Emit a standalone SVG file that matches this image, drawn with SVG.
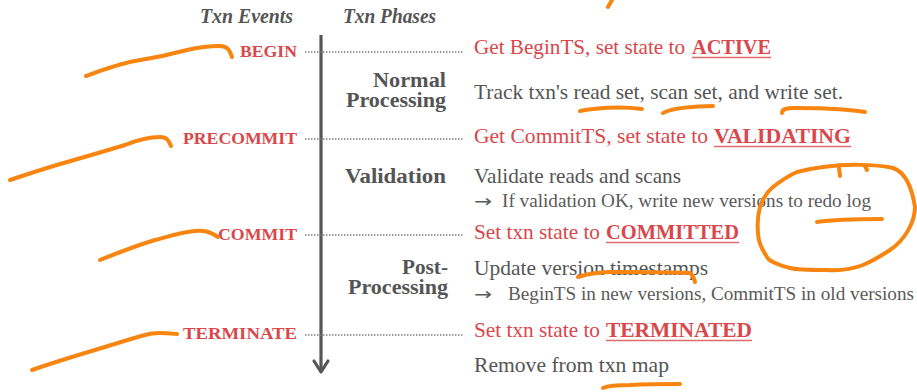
<svg xmlns="http://www.w3.org/2000/svg" width="917" height="392" viewBox="0 0 917 392">
<defs>
<style>
.hdr{font-family:"Liberation Serif",serif;font-style:italic;font-weight:bold;font-size:20px;fill:#555}
.ev{font-family:"Liberation Serif",serif;font-weight:bold;font-size:17.5px;fill:#d9474b;text-anchor:end}
.ph{font-family:"Liberation Serif",serif;font-weight:bold;font-size:20px;fill:#555;text-anchor:end}
.red{font-family:"Liberation Serif",serif;font-size:21px;fill:#d9474b}
.redb{font-family:"Liberation Serif",serif;font-weight:bold;font-size:21px;fill:#d9474b}
.txt{font-family:"Liberation Serif",serif;font-size:21px;fill:#555}
.sub{font-family:"Liberation Serif",serif;font-size:18px;fill:#5a5a5a}
.arr{font-family:"DejaVu Sans",sans-serif;font-size:17px;fill:#5a5a5a}
.ul{stroke:#e06a6c;stroke-width:1.6;fill:none}
.dot{stroke:#777;stroke-width:1.6;stroke-dasharray:1.4 1.6;fill:none}
.ink{stroke:#f7850f;stroke-width:4;fill:none;stroke-linecap:round;stroke-linejoin:round}
</style>
</defs>
<rect width="917" height="392" fill="#fff"/>

<g id="headers">
<text class="hdr" x="200" y="23" textLength="93" lengthAdjust="spacingAndGlyphs">Txn Events</text>
<text class="hdr" x="343" y="23" textLength="93" lengthAdjust="spacingAndGlyphs">Txn Phases</text>
</g>

<g id="connectors">
<line x1="321" y1="35" x2="321" y2="371" stroke="#555" stroke-width="3.2"/>
<path d="M314,361 L321,372 L328,361" fill="none" stroke="#555" stroke-width="3.2" stroke-linecap="round" stroke-linejoin="round"/>
<line class="dot" x1="305" y1="52" x2="464" y2="52"/>
<line class="dot" x1="305" y1="139" x2="464" y2="139"/>
<line class="dot" x1="305" y1="235" x2="464" y2="235"/>
<line class="dot" x1="305" y1="335" x2="464" y2="335"/>
</g>

<g id="ev-begin"><text class="ev" x="297" y="57" textLength="57" lengthAdjust="spacingAndGlyphs">BEGIN</text></g>
<g id="ev-precommit"><text class="ev" x="297" y="144" textLength="114" lengthAdjust="spacingAndGlyphs">PRECOMMIT</text></g>
<g id="ev-commit"><text class="ev" x="297" y="240" textLength="79" lengthAdjust="spacingAndGlyphs">COMMIT</text></g>
<g id="ev-terminate"><text class="ev" x="297" y="339" textLength="114" lengthAdjust="spacingAndGlyphs">TERMINATE</text></g>

<g id="ph-normal">
<text class="ph" x="446" y="87" textLength="73" lengthAdjust="spacingAndGlyphs">Normal</text>
<text class="ph" x="446" y="107" textLength="100" lengthAdjust="spacingAndGlyphs">Processing</text>
</g>
<g id="ph-validation"><text class="ph" x="446" y="183" textLength="101" lengthAdjust="spacingAndGlyphs">Validation</text></g>
<g id="ph-post">
<text class="ph" x="448" y="274" textLength="46" lengthAdjust="spacingAndGlyphs">Post-</text>
<text class="ph" x="448" y="294" textLength="100" lengthAdjust="spacingAndGlyphs">Processing</text>
</g>

<g id="act-begin">
<text class="red" x="474" y="54" textLength="211" lengthAdjust="spacingAndGlyphs">Get BeginTS, set state to</text>
<text class="redb" x="692" y="54" textLength="79" lengthAdjust="spacingAndGlyphs">ACTIVE</text>
<line class="ul" x1="692" y1="57.5" x2="771" y2="57.5"/>
</g>
<g id="act-track">
<text class="txt" x="474" y="99" textLength="369" lengthAdjust="spacingAndGlyphs">Track txn's read set, scan set, and write set.</text>
</g>
<g id="act-precommit">
<text class="red" x="474" y="143" textLength="234" lengthAdjust="spacingAndGlyphs">Get CommitTS, set state to</text>
<text class="redb" x="714" y="143" textLength="137" lengthAdjust="spacingAndGlyphs">VALIDATING</text>
<line class="ul" x1="714" y1="146.5" x2="851" y2="146.5"/>
</g>
<g id="act-validate">
<text class="txt" x="474" y="183" textLength="207" lengthAdjust="spacingAndGlyphs">Validate reads and scans</text>
<text class="arr" x="474" y="207" textLength="18" lengthAdjust="spacingAndGlyphs">→</text>
<text class="sub" x="502" y="207" textLength="369" lengthAdjust="spacingAndGlyphs">If validation OK, write new versions to redo log</text>
</g>
<g id="act-commit">
<text class="red" x="474" y="239" textLength="126" lengthAdjust="spacingAndGlyphs">Set txn state to</text>
<text class="redb" x="606" y="239" textLength="133" lengthAdjust="spacingAndGlyphs">COMMITTED</text>
<line class="ul" x1="606" y1="242.5" x2="739" y2="242.5"/>
</g>
<g id="act-update">
<text class="txt" x="474" y="275" textLength="234" lengthAdjust="spacingAndGlyphs">Update version timestamps</text>
<text class="arr" x="474" y="300" textLength="18" lengthAdjust="spacingAndGlyphs">→</text>
<text class="sub" x="508" y="300" textLength="406" lengthAdjust="spacingAndGlyphs">BeginTS in new versions, CommitTS in old versions</text>
</g>
<g id="act-terminate">
<text class="red" x="474" y="337" textLength="126" lengthAdjust="spacingAndGlyphs">Set txn state to</text>
<text class="redb" x="606" y="337" textLength="146" lengthAdjust="spacingAndGlyphs">TERMINATED</text>
<line class="ul" x1="606" y1="340.5" x2="752" y2="340.5"/>
</g>
<g id="act-remove">
<text class="txt" x="474" y="372" textLength="195" lengthAdjust="spacingAndGlyphs">Remove from txn map</text>
</g>

<g id="annotations">
<path class="ink" d="M612,0 L608,7"/>
<path class="ink" d="M86,76 C105,69 118,64 135,61 C155,58 165,56 187,50 C200,47 212,46 220,46 C228,46 230,51 232,57"/>
<path class="ink" d="M10,180 C25,175 40,170 60,164 C85,157 105,151 125,145 C140,139 150,137 160,137 C167,137 169,141 171,146"/>
<path class="ink" d="M100,260 C120,252 135,246 155,240 C170,236 182,232 195,231 C205,230 210,232 218,237"/>
<path class="ink" d="M32,370 C55,362 75,356 95,350 C115,344 130,339 145,335 C155,332 165,333 177,334"/>
<path class="ink" d="M580,111 C595,108 620,106 642,109"/>
<path class="ink" d="M663,113 C672,108 695,106 713,106"/>
<path class="ink" d="M782,113 C782,109 786,108 795,108 C820,108 845,109 865,112"/>
<path class="ink" d="M823,167 C845,164 875,164 893,168 C905,172 912,188 915,207 C915,222 905,240 890,250 C878,258 870,262 863,265 C850,270 840,271 827,270 C808,270 797,270 790,268 C777,265 768,260 767,257 C761,248 758,240 758,233 C757,222 758,214 760,207 C763,198 767,192 773,187 C782,180 790,175 797,172 C808,169 815,168 823,167"/>
<path class="ink" d="M839,168 L840,176"/>
<path class="ink" d="M865,166 L867,170"/>
<path class="ink" d="M817,222 C830,220 860,219 882,219"/>
<path class="ink" d="M578,277 C590,273 600,272 615,272 C640,272 670,272 690,273 C693,275 694,278 695,282"/>
<path class="ink" d="M603,388 C610,385 620,385 630,385 C650,384 665,384 680,384"/>
</g>
</svg>
